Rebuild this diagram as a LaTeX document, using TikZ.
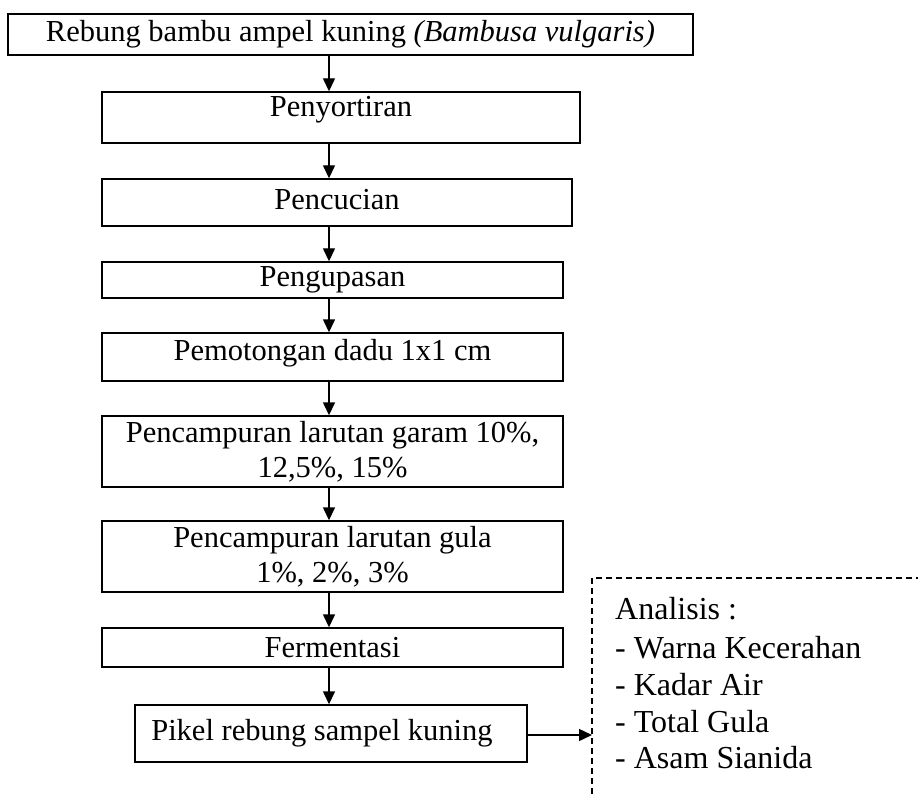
\documentclass[tikz,border=0pt]{standalone}
\usepackage{fontspec}
\setmainfont{Liberation Serif}
\usetikzlibrary{arrows.meta}
\tikzset{
  stepbox/.style={draw=black, line width=1.4pt, inner sep=0pt, align=center,
    font=\fontsize{30.5}{35}\selectfont},
  arr/.style={line width=1.4pt, -{Triangle[width=12pt,length=13pt]}},
  dashedline/.style={line width=1.1pt, dash pattern=on 6pt off 4pt},
  antext/.style={anchor=base west, inner sep=0pt, font=\fontsize{32}{37}\selectfont}
}
\begin{document}
\begin{tikzpicture}[x=1pt,y=-1pt]
\useasboundingbox (0,0) rectangle (918,794);
% boxes
\node[stepbox, minimum width=685pt, minimum height=41pt] (b1) at (350.5,34.5)
  {Rebung bambu ampel kuning \textit{(Bambusa vulgaris)}};
\node[stepbox, minimum width=478pt, minimum height=51pt] (b2) at (341,117.5)
  {\raisebox{8pt}[\height][\depth]{Penyortiran}};
\node[stepbox, minimum width=470pt, minimum height=47pt] (b3) at (337,202.5)
  {\raisebox{3pt}[\height][\depth]{Pencucian}};
\node[stepbox, minimum width=461pt, minimum height=36pt] (b4) at (332.5,280) {Pengupasan};
\node[stepbox, minimum width=461pt, minimum height=48pt] (b5) at (332.5,357)
  {\raisebox{4pt}[\height][\depth]{Pemotongan dadu 1x1 cm}};
\node[stepbox, minimum width=461pt, minimum height=71pt] (b6) at (332.5,451.5) {Pencampuran larutan garam 10\%,\\12,5\%, 15\%};
\node[stepbox, minimum width=461pt, minimum height=71pt] (b7) at (332.5,556.5) {Pencampuran larutan gula\\1\%, 2\%, 3\%};
\node[stepbox, minimum width=461pt, minimum height=39pt] (b8) at (332.5,647.5) {Fermentasi};
\node[stepbox, minimum width=392pt, minimum height=57pt] (b9) at (331,733.5) {Pikel rebung sampel kuning\hspace*{18pt}};
% arrow axis
\coordinate (ax) at (329,0);
\draw[arr] (b1.south -| ax) -- (b2.north -| ax);
\draw[arr] (b2.south -| ax) -- (b3.north -| ax);
\draw[arr] (b3.south -| ax) -- (b4.north -| ax);
\draw[arr] (b4.south -| ax) -- (b5.north -| ax);
\draw[arr] (b5.south -| ax) -- (b6.north -| ax);
\draw[arr] (b6.south -| ax) -- (b7.north -| ax);
\draw[arr] (b7.south -| ax) -- (b8.north -| ax);
\draw[arr] (b8.south -| ax) -- (b9.north -| ax);
% analysis box (open dashed frame)
\coordinate (dtl) at (592,578);
\coordinate (dbl) at (592,794);
\coordinate (dtr) at (918,578);
\draw[dashedline] (dbl) -- (dtl) -- (dtr);
\coordinate (an) at (592,735);
\draw[arr] (b9.east |- an) -- (an);
\node[antext] (t1) at (615,619) {Analisis :};
\node[antext] (t2) at (615,658) {- Warna Kecerahan};
\node[antext] (t3) at (615,695) {- Kadar Air};
\node[antext] (t4) at (615,732) {- Total Gula};
\node[antext] (t5) at (615,768) {- Asam Sianida};
\end{tikzpicture}
\end{document}
